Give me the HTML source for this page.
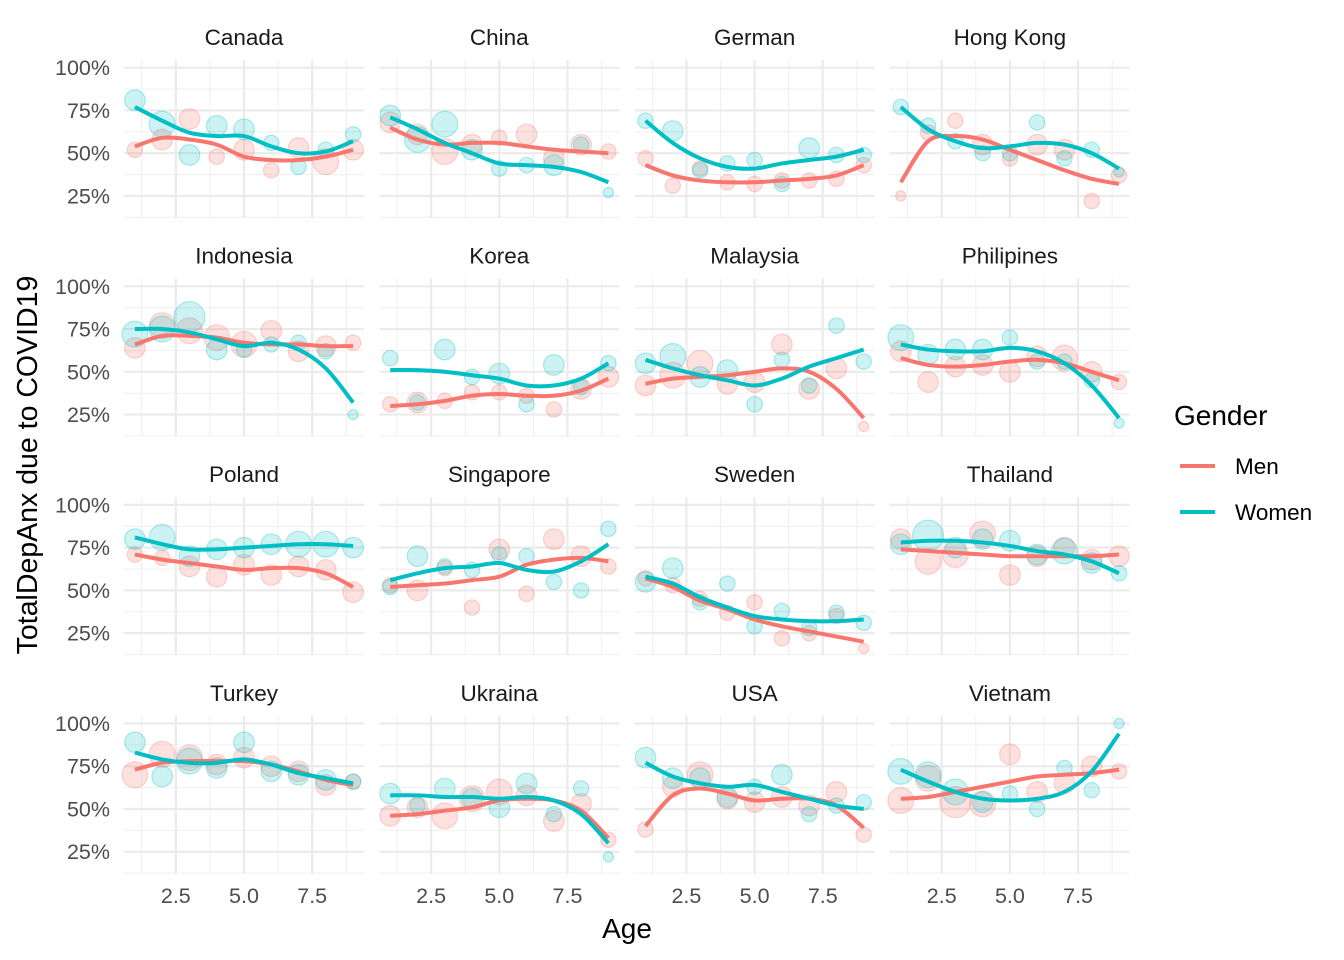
<!DOCTYPE html>
<html><head><meta charset="utf-8">
<style>
html,body{margin:0;padding:0;background:#fff;}
svg{display:block;font-family:"Liberation Sans",sans-serif;}
</style></head>
<body>
<svg id="chart" width="1344" height="960" viewBox="0 0 1344 960" xmlns="http://www.w3.org/2000/svg"></svg>
<script>
const countries = ["Canada","China","German","Hong Kong","Indonesia","Korea","Malaysia","Philipines","Poland","Singapore","Sweden","Thailand","Turkey","Ukraina","USA","Vietnam"];
const ages = [1,2,3,4,5,6,7,8,9];
const menVals = [
 [52,58,70,48,52,40,53,45,52],[68,61,51,55,59,61,47,55,51],[47,31,41,33,32,34,34,35,43],[25,62,69,55,47,55,52,22,37],
 [64,77,74,70,66,74,62,65,67],[31,32,33,38,38,36,28,40,47],[42,48,55,43,44,66,40,52,18],[62,44,53,54,50,59,58,50,44],
 [71,69,64,58,65,59,64,62,49],[53,50,63,40,74,48,80,70,64],[57,53,45,37,43,22,25,35,16],[80,67,71,83,59,70,75,68,70],
 [70,82,80,76,80,75,72,64,66],[46,51,46,56,60,58,43,53,32],[38,63,70,56,54,57,52,60,35],[55,68,54,53,82,60,65,75,72]];
const womenVals = [
 [81,67,49,66,64,56,42,52,61],[72,58,67,52,41,43,43,55,27],[69,63,40,44,46,32,53,49,49],[77,66,57,50,50,68,47,52,39],
 [72,75,82,63,63,66,67,62,25],[58,32,63,47,49,31,54,41,55],[55,59,47,51,31,57,42,77,56],[70,60,63,63,70,56,56,45,20],
 [80,81,70,74,75,77,77,77,75],[52,70,64,62,71,70,55,50,86],[55,63,43,54,29,38,28,37,31],[77,82,75,80,79,71,73,66,60],
 [89,69,78,74,89,72,70,67,66],[59,52,62,56,51,65,47,62,22],[80,68,68,57,63,70,47,52,54],[72,70,60,54,59,50,74,61,100]];
const menSize = [
 [2,3,3,2,3,2,3,4,3],[3,3,4,3,2,3,3,3,2],[2,2,2,2,2,2,2,2,2],[1,2,2,3,2,3,3,2,2],
 [3,4,4,4,4,3,3,3,2],[2,3,2,2,2,2,2,3,3],[3,4,4,3,3,3,3,3,1],[3,3,3,3,3,3,4,3,2],
 [2,2,3,3,3,3,3,3,3],[2,3,2,2,3,2,3,3,2],[2,2,2,2,2,2,2,2,1],[3,4,4,4,3,3,3,3,3],
 [4,4,4,3,3,3,3,3,2],[3,3,4,4,4,3,3,3,2],[2,3,4,3,3,3,3,3,2],[4,4,5,4,3,3,3,3,2]];
const womenSize = [
 [3,4,3,3,3,2,2,2,2],[3,4,4,3,2,2,3,2,1],[2,3,2,2,2,2,3,2,2],[2,2,2,2,2,2,2,2,1],
 [4,4,5,3,2,2,2,2,1],[2,2,3,2,3,2,3,2,2],[3,4,3,3,2,2,2,2,2],[4,3,3,3,2,2,2,2,1],
 [3,4,3,3,3,3,4,4,3],[2,3,2,2,2,2,2,2,2],[3,3,2,2,2,2,2,2,2],[3,5,3,3,3,3,4,3,2],
 [3,3,4,3,3,3,3,3,2],[3,2,3,3,3,3,2,2,1],[3,3,3,3,2,3,2,2,2],[4,4,4,3,2,2,2,2,1]];
const menSmooth = [
 [54,59,58,55,48,46,46,48,52],[65,58,55,56,56,54,52,51,50],[43,37,34,33,33,34,35,37,43],[33,57,60,58,52,46,40,35,32],
 [66,71,71,70,67,66,66,65,65],[30,31,33,36,37,36,36,39,46],[43,46,47,48,50,52,50,40,23],[58,54,53,54,56,57,55,50,45],
 [71,68,66,64,62,63,63,60,52],[52,53,54,56,58,65,68,69,67],[57,52,44,39,33,29,26,23,20],[74,73,72,71,70,70,70,70,71],
 [73,77,78,78,78,76,72,67,64],[46,47,49,51,55,56,55,49,33],[40,58,62,59,55,56,56,52,39],[56,57,60,63,66,69,70,71,73]];
const womenSmooth = [
 [77,69,62,60,60,54,50,51,57],[71,64,56,50,44,43,42,39,33],[69,56,47,42,41,44,46,48,52],[77,64,57,53,54,56,55,50,41],
 [75,75,73,69,65,67,63,52,32],[51,51,50,48,46,42,42,46,55],[57,52,48,45,42,46,53,58,63],[66,63,62,62,64,62,55,42,23],
 [81,77,74,74,75,76,77,77,76],[56,60,63,64,66,62,61,67,77],[58,54,46,40,35,33,32,32,33],[78,79,79,78,76,73,71,67,60],
 [83,79,77,77,79,76,71,68,65],[58,58,57,57,56,57,55,47,30],[77,69,65,63,64,60,56,52,50],[73,66,60,56,55,56,60,72,94]];
const yTicks = [25,50,75,100];
const yTickLabels = ["25%","50%","75%","100%"];
const xTicks = [2.5,5.0,7.5];
const xTickLabels = ["2.5","5.0","7.5"];

const NS="http://www.w3.org/2000/svg";
const svg=document.getElementById('chart');
function mk(tag,attrs,parent){const e=document.createElementNS(NS,tag);for(const k in attrs)e.setAttribute(k,attrs[k]);(parent||svg).appendChild(e);return e;}
const MEN="#F8766D", WOMEN="#00BFC4";
const PW=240, PH=158;
function panelX(c){return 124+c*255.3;}
function panelY(r){return 60+r*218.6;}
const XMIN=0.6,XMAX=9.4,YMIN=12.1,YMAX=104.5;
function xs(c,v){return panelX(c)+(v-XMIN)/(XMAX-XMIN)*PW;}
function ys(r,v){return panelY(r)+(YMAX-v)/(YMAX-YMIN)*PH;}
function rad(s){return 2.5+2.6*s;}
function smoothPath(c,r,vals){
  const p=ages.map((a,i)=>[xs(c,a),ys(r,vals[i])]);
  let d="M"+p[0][0]+","+p[0][1];
  for(let i=0;i<p.length-1;i++){
    const p0=p[Math.max(0,i-1)],p1=p[i],p2=p[i+1],p3=p[Math.min(p.length-1,i+2)];
    const c1=[p1[0]+(p2[0]-p0[0])/6,p1[1]+(p2[1]-p0[1])/6];
    const c2=[p2[0]-(p3[0]-p1[0])/6,p2[1]-(p3[1]-p1[1])/6];
    d+=" C"+c1[0]+","+c1[1]+" "+c2[0]+","+c2[1]+" "+p2[0]+","+p2[1];
  }
  return d;
}
countries.forEach((name,k)=>{
  const c=k%4,r=Math.floor(k/4);
  const g=mk('g',{});
  
  
  const x0=panelX(c),y0=panelY(r);
  [12.5,37.5,62.5,87.5].forEach(v=>{const y=ys(r,v);if(y<=y0+PH+1)mk('line',{x1:x0,x2:x0+PW,y1:y,y2:y,stroke:"#F0F0F0","stroke-width":1.1},g);});
  [1.25,3.75,6.25,8.75].forEach(v=>{const x=xs(c,v);mk('line',{x1:x,x2:x,y1:y0,y2:y0+PH,stroke:"#F0F0F0","stroke-width":1.1},g);});
  yTicks.forEach(v=>{const y=ys(r,v);mk('line',{x1:x0,x2:x0+PW,y1:y,y2:y,stroke:"#EBEBEB","stroke-width":2.2},g);});
  xTicks.forEach(v=>{const x=xs(c,v);mk('line',{x1:x,x2:x,y1:y0,y2:y0+PH,stroke:"#EBEBEB","stroke-width":2.2},g);});
  const st=mk('text',{x:x0+PW/2,y:y0-15,"text-anchor":"middle","font-size":22.5,fill:"#1A1A1A"},g);
  st.textContent=name;
  
  
  ages.forEach((a,i)=>{
    const m=mk('circle',{cx:xs(c,a),cy:ys(r,menVals[k][i]),r:rad(menSize[k][i]),fill:MEN,"fill-opacity":0.22,stroke:MEN,"stroke-opacity":0.3,"stroke-width":1.2},g);
    
    
    const w=mk('circle',{cx:xs(c,a),cy:ys(r,womenVals[k][i]),r:rad(womenSize[k][i]),fill:WOMEN,"fill-opacity":0.2,stroke:WOMEN,"stroke-opacity":0.3,"stroke-width":1.2},g);
    
    
  });
  const lm=mk('path',{d:smoothPath(c,r,menSmooth[k]),fill:"none",stroke:MEN,"stroke-width":4},g);
  
  
  const lw=mk('path',{d:smoothPath(c,r,womenSmooth[k]),fill:"none",stroke:WOMEN,"stroke-width":4},g);
  
  
  if(c===0){yTicks.forEach((v,i)=>{const t=mk('text',{x:110,y:ys(r,v)+7.5,"text-anchor":"end","font-size":21.5,fill:"#4D4D4D"},g);t.textContent=yTickLabels[i];
    
    });}
  if(r===3){xTicks.forEach((v,i)=>{const t=mk('text',{x:xs(c,v),y:903,"text-anchor":"middle","font-size":21.5,fill:"#4D4D4D"},g);t.textContent=xTickLabels[i];
    
    });}
});
const xt=mk('text',{x:627,y:938,"text-anchor":"middle","font-size":28,fill:"#000"});xt.textContent="Age";


const yt=mk('text',{x:0,y:0,transform:"translate(37,465) rotate(-90)","text-anchor":"middle","font-size":28.5,fill:"#000"});yt.textContent="TotalDepAnx due to COVID19";


const lg=mk('g',{});


const lt=mk('text',{x:1174,y:425,"font-size":28,fill:"#000"},lg);lt.textContent="Gender";


[["Men",MEN,466],["Women",WOMEN,512]].forEach(([n,col,y])=>{
  const e=mk('g',{},lg);
  
  
  mk('line',{x1:1180,x2:1215,y1:y,y2:y,stroke:col,"stroke-width":4},e);
  const t=mk('text',{x:1235,y:y+8,"font-size":22.5,fill:"#000"},e);t.textContent=n;
});
</script>
</body></html>
